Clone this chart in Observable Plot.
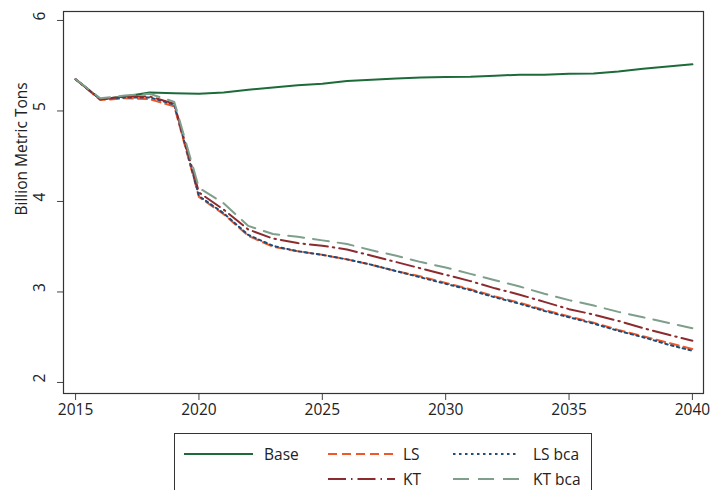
<!DOCTYPE html>
<html>
<head>
<meta charset="utf-8">
<script src="https://cdn.jsdelivr.net/npm/d3@7"></script>
<script src="https://cdn.jsdelivr.net/npm/@observablehq/plot@0.6"></script>
<style>
  html, body { margin: 0; padding: 0; background: #fff; }
  body { width: 711px; height: 490px; overflow: hidden; position: relative; font-family: "Open Sans", sans-serif; }
  #chart { position: absolute; left: 0; top: 0; }
  #legend { position: absolute; left: 174px; top: 433px; width: 418px; height: 64px; border: 1px solid #333; box-sizing: border-box; }
  .item { position: absolute; height: 20px; display: flex; align-items: center; font-size: 15.5px; color: #222; }
  .item svg { margin-right: 10px; }
</style>
</head>
<body>
<div id="chart"></div>
<div id="legend"></div>
<script>
const years = [2015,2016,2017,2018,2019,2020,2021,2022,2023,2024,2025,2026,2027,2028,2029,2030,2031,2032,2033,2034,2035,2036,2037,2038,2039,2040];
const base  = [5.35,5.13,5.16,5.205,5.197,5.19,5.205,5.235,5.26,5.285,5.30,5.33,5.345,5.36,5.37,5.375,5.378,5.39,5.40,5.40,5.41,5.415,5.436,5.466,5.49,5.515];
const ls    = [5.35,5.12,5.14,5.13,5.05,4.05,3.86,3.62,3.50,3.45,3.41,3.36,3.30,3.23,3.17,3.10,3.03,2.95,2.88,2.80,2.73,2.66,2.58,2.51,2.44,2.37];
const lsBca = [5.35,5.13,5.15,5.15,5.07,4.06,3.87,3.63,3.51,3.45,3.41,3.36,3.30,3.23,3.16,3.09,3.02,2.94,2.87,2.79,2.72,2.65,2.57,2.50,2.42,2.35];
const kt    = [5.35,5.13,5.16,5.16,5.08,4.10,3.91,3.69,3.59,3.54,3.51,3.47,3.40,3.33,3.26,3.19,3.12,3.04,2.97,2.89,2.81,2.75,2.68,2.60,2.53,2.46];
const ktBca = [5.35,5.14,5.17,5.19,5.10,4.15,3.98,3.73,3.64,3.61,3.57,3.53,3.46,3.40,3.33,3.27,3.20,3.13,3.06,2.98,2.91,2.85,2.78,2.72,2.66,2.60];

const xTicks = [2015,2020,2025,2030,2035,2040];
const yTicks = [2,3,4,5,6];

const seriesNames = ["Base","LS","LS bca","KT","KT bca"];
const seriesValues = [base, ls, lsBca, kt, ktBca];
const seriesColors = ["#1d6b3b","#f2572a","#1f4d7a","#8c2b2e","#7d9f8c"];
const seriesDash = [null,"9,5","2.5,3.5","18,5,1.5,5","16,9"];
const seriesWidth = [2,2,2,2,2];

const rows = [];
seriesNames.forEach((s, i) => years.forEach((yr, j) => rows.push({series: s, year: yr, value: seriesValues[i][j]})));

const lineMarks = seriesNames.map((s, i) =>
  Plot.line(rows.filter(r => r.series === s), {
    x: "year", y: "value",
    stroke: seriesColors[i],
    strokeWidth: seriesWidth[i],
    strokeDasharray: seriesDash[i] || undefined
  })
);

const chart = Plot.plot({
  width: 711,
  height: 425,
  marginLeft: 63,
  marginRight: 8,
  marginTop: 11,
  marginBottom: 32,
  style: {fontFamily: "Open Sans, sans-serif", fontSize: "15.5px", color: "#222", background: "#fff"},
  x: {domain: [2014.51, 2040.45]},
  y: {domain: [1.878, 6.099]},
  marks: [
    Plot.axisX({ticks: xTicks, tickFormat: "d", tickSize: 7, tickPadding: 3, label: null, stroke: "#444"}),
    Plot.axisY({ticks: yTicks, tickSize: 6, tickFormat: () => "", label: null, stroke: "#444"}),
    Plot.text(yTicks, {y: d => d, text: d => String(d), frameAnchor: "left", dx: -23, rotate: -90, fill: "#222"}),
    Plot.text(["Billion Metric Tons"], {text: d => d, frameAnchor: "left", dx: -41, dy: 13, rotate: -90, fill: "#222"}),
    ...lineMarks,
    Plot.frame({stroke: "#333", strokeWidth: 1.2})
  ]
});
document.getElementById("chart").appendChild(chart);

// legend
const legendPos = [
  {left: 9, top: 10},
  {left: 153, top: 10},
  {left: 278, top: 10},
  {left: 153, top: 35},
  {left: 278, top: 35}
];
const lineLens = [69, 67, 66, 67, 66];
const labelGaps = [11, 8, 14, 8, 14];
const legend = document.getElementById("legend");
seriesNames.forEach((s, i) => {
  const item = document.createElement("div");
  item.className = "item";
  item.style.left = legendPos[i].left + "px";
  item.style.top = legendPos[i].top + "px";
  const svg = d3.create("svg").attr("width", lineLens[i]).attr("height", 20).style("margin-right", labelGaps[i] + "px");
  svg.append("line").attr("x1", 0).attr("x2", lineLens[i]).attr("y1", 10).attr("y2", 10)
    .attr("stroke", seriesColors[i]).attr("stroke-width", 2)
    .attr("stroke-dasharray", seriesDash[i]);
  item.appendChild(svg.node());
  const t = document.createElement("span");
  t.textContent = s;
  item.appendChild(t);
  legend.appendChild(item);
});
</script>
</body>
</html>
